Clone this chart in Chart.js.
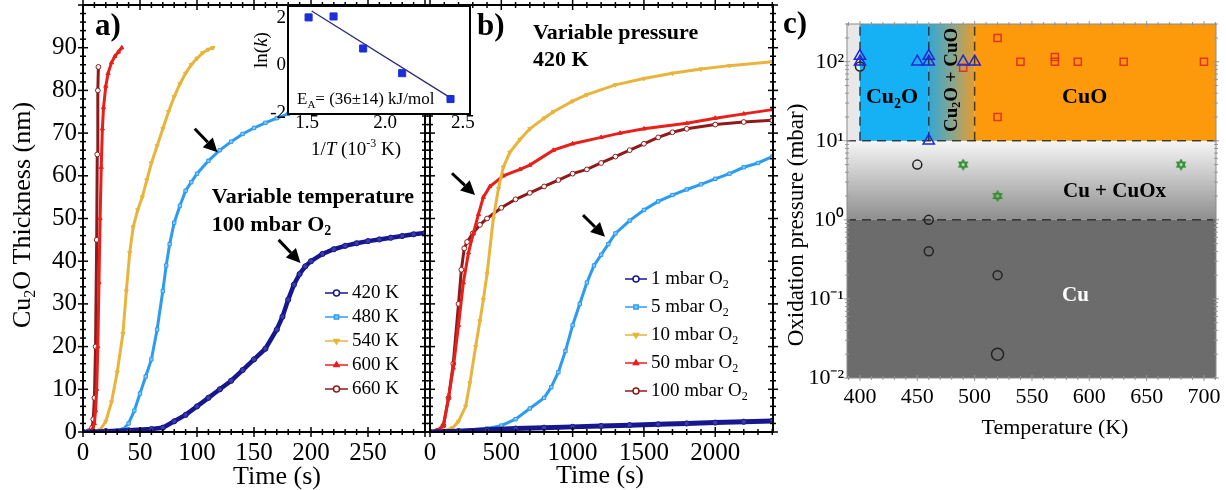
<!DOCTYPE html>
<html>
<head>
<meta charset="utf-8">
<title>Cu oxidation kinetics</title>
<script src="https://cdn.jsdelivr.net/npm/chart.js@4.4.1/dist/chart.umd.min.js"></script>
<style>
  html, body { margin: 0; padding: 0; background: #fff; }
  #wrap { position: relative; width: 1226px; height: 490px; overflow: hidden; }
  #wrap canvas { position: absolute; top: 0; }
</style>
</head>
<body>
<div id="wrap">
  <canvas id="panelA" width="430" height="490" style="left:0"></canvas>
  <canvas id="panelB" width="400" height="490" style="left:380px"></canvas>
  <canvas id="inset" width="240" height="160" style="left:250px"></canvas>
  <canvas id="panelC" width="446" height="490" style="left:780px"></canvas>
</div>
<script>
const FONT = "'Liberation Serif', 'Times New Roman', serif";
const NAVY = '#16168e', SKY = '#2b9cf2', GOLD = '#e8b43c', RED = '#e8201c', MAROON = '#8e1a1a';

// a) variable temperature, 100 mbar O2  (time in s, thickness in nm)
const timeA420 = [0, 20, 40, 60, 70, 80, 90, 100, 110, 120, 130, 140, 150, 160, 170, 175, 180, 185, 190, 195, 200, 210, 220, 230, 240, 250, 260, 270, 280, 290, 300];
const thickA420 = [0, 0.2, 0.4, 0.7, 1, 2.5, 4, 6, 8, 10, 12, 14.5, 17, 19.5, 24, 27, 31, 34.5, 37, 38.8, 40, 41.7, 42.8, 43.6, 44.2, 44.7, 45.1, 45.5, 45.9, 46.3, 46.6];
const timeA480 = [0, 20, 30, 35, 40, 45, 50, 55, 60, 65, 70, 73, 76, 80, 85, 90, 95, 100, 110, 120, 130, 140, 150, 160, 170, 180];
const thickA480 = [0, 0.1, 0.3, 0.6, 2, 5, 9, 13, 17, 24, 33, 39, 44, 49, 53, 56.5, 58.5, 60.5, 63.5, 66, 68, 69.8, 71.2, 72.4, 73.5, 74.5];
const timeA540 = [0, 10, 15, 20, 25, 30, 35, 38, 41, 44, 48, 52, 56, 60, 65, 70, 75, 80, 85, 90, 95, 100, 105, 110, 114];
const thickA540 = [0, 0, 0.5, 2.5, 7, 14, 23, 33, 42, 48, 52, 55, 59, 63, 67, 71, 75, 78.5, 81.5, 84, 86, 87.5, 88.8, 89.6, 90];
const timeA600 = [0, 5, 8, 10, 11, 12, 13, 14, 15, 16, 17, 18, 20, 22, 25, 28, 31, 34];
const thickA600 = [0, 0, 0.5, 2, 5, 10, 20, 35, 50, 62, 71, 76, 81, 84, 86.5, 88, 89, 90];
const timeA660 = [0, 5, 8, 9, 10, 11, 12, 12.5, 13, 13.5];
const thickA660 = [0, 0.2, 1, 3, 8, 20, 45, 65, 80, 85.5];

// b) variable pressure, 420 K
const timeB1 = [0, 200, 400, 600, 800, 1000, 1200, 1400, 1600, 1800, 2000, 2200, 2400];
const thickB1 = [0, 0.2, 0.5, 0.8, 1.0, 1.2, 1.4, 1.6, 1.8, 2.0, 2.2, 2.4, 2.6];
const timeB5 = [0, 200, 400, 500, 600, 700, 800, 850, 900, 950, 1000, 1050, 1100, 1150, 1200, 1250, 1300, 1400, 1500, 1600, 1700, 1800, 1900, 2000, 2100, 2200, 2300, 2400];
const thickB5 = [0, 0.3, 0.8, 1.5, 3, 5.5, 8, 10.5, 14, 19, 25, 30, 35, 39, 41.5, 44, 46.5, 49.5, 52, 54, 55.5, 56.8, 58, 59.3, 60.5, 62, 63, 64.5];
const timeB10 = [0, 100, 160, 200, 250, 280, 320, 350, 374, 400, 444, 480, 514, 560, 631, 700, 800, 865, 1000, 1100, 1300, 1500, 1700, 1900, 2100, 2400];
const thickB10 = [0, 0.3, 1, 2.5, 6, 11.5, 20, 26, 31, 37, 50, 57, 62, 65.5, 68.5, 71, 73.5, 75, 77.5, 79, 81.3, 82.8, 84, 85, 85.8, 86.7];
const timeB50 = [0, 50, 94, 130, 163, 200, 234, 270, 304, 340, 374, 420, 514, 631, 700, 865, 1000, 1200, 1333, 1500, 1800, 2000, 2200, 2400];
const thickB50 = [0, 0.3, 1.5, 8, 15, 25, 35, 42, 46.5, 51, 55, 57.5, 60, 61.5, 62.5, 66, 67.5, 69, 70, 71, 72.3, 73.5, 74.5, 75.5];
const timeB100 = [0, 50, 94, 130, 163, 200, 220, 240, 260, 300, 350, 400, 500, 600, 700, 800, 900, 1000, 1100, 1200, 1300, 1400, 1500, 1600, 1700, 1800, 2000, 2200, 2400];
const thickB100 = [0, 0.3, 1.5, 8, 16, 30, 38, 43, 44.5, 46.5, 48.5, 50, 52.5, 54.5, 56, 57.5, 59, 60.5, 61.5, 63, 64.5, 66, 67.5, 69, 70.2, 71, 72, 72.6, 73];

// inset: Arrhenius plot
const invT = [1.51, 1.67, 1.86, 2.11, 2.42];
const lnK = [2.02, 2.06, 0.71, -0.33, -1.42];
const fitInvT = [1.53, 2.41];
const fitLnK = [2.29, -1.33];

// c) phase map (temperature in K, pressure in mbar)
const triT = [400, 400, 450, 460, 460, 460, 490, 500];
const triP = [100, 118, 100, 100, 118, 10, 100, 100];
const circT = [400, 450, 460, 460, 520, 520];
const circP = [87, 5, 1, 0.4, 0.2, 0.02];
const sqT = [490, 520, 520, 540, 570, 570, 590, 630, 700];
const sqP = [84, 200, 20, 100, 100, 115, 100, 100, 100];
const starT = [490, 520, 680];
const starP = [5, 2, 5];
const phaseT = [400, 460, 500];   // Cu2O | Cu2O+CuO | CuO
const phaseP = [1, 10];           // Cu | Cu+CuOx | oxides

// ticks
const tickAx = [0, 50, 100, 150, 200, 250];
const tickAy = [0, 10, 20, 30, 40, 50, 60, 70, 80, 90];
const tickBx = [0, 500, 1000, 1500, 2000];
const tickInsetX = [1.5, 2.0, 2.5];
const tickInsetY = [-2, 0, 2];
const tickCx = [400, 450, 500, 550, 600, 650, 700];
const tickCy = [0.01, 0.1, 1, 10, 100];
const tickCyLabels = ['10⁻²', '10⁻¹', '10⁰', '10¹', '10²'];

const pts = (xs, ys) => xs.map((v, i) => ({ x: v, y: ys[i] }));

// "_x" subscript, "^{..}" superscript, "~..~" italic
function parseRich(str) {
  const out = [], re = /_(\w)|\^\{([^}]*)\}|~([^~]*)~/g;
  let last = 0, m;
  while ((m = re.exec(str))) {
    if (m.index > last) out.push({ t: str.slice(last, m.index) });
    if (m[1] !== undefined) out.push({ t: m[1], sub: true });
    else if (m[2] !== undefined) out.push({ t: m[2], sup: true });
    else out.push({ t: m[3], it: true });
    last = re.lastIndex;
  }
  if (last < str.length) out.push({ t: str.slice(last) });
  return out;
}

function drawRich(ctx, str, x, y, o) {
  const parts = parseRich(str);
  const size = o.size || 20;
  const fontFor = p => (p.it ? 'italic ' : '') + (o.bold ? 'bold ' : '') +
    Math.round(p.sub || p.sup ? size * 0.62 : size) + 'px ' + FONT;
  let w = 0;
  parts.forEach(p => { ctx.font = fontFor(p); p.w = ctx.measureText(p.t).width; w += p.w; });
  ctx.save();
  ctx.translate(x, y);
  if (o.rotate) ctx.rotate(-Math.PI / 2);
  let cx = o.align === 'center' ? -w / 2 : o.align === 'right' ? -w : 0;
  ctx.fillStyle = o.color || '#000';
  ctx.textAlign = 'left';
  ctx.textBaseline = 'middle';
  parts.forEach(p => {
    ctx.font = fontFor(p);
    const dy = p.sub ? size * 0.3 : p.sup ? -size * 0.33 : 0;
    ctx.fillText(p.t, cx, dy);
    cx += p.w;
  });
  ctx.restore();
}

function drawArrow(ctx, x1, y1, x2, y2) {
  const ang = Math.atan2(y2 - y1, x2 - x1), head = 14, half = 7;
  const bx = x2 - head * Math.cos(ang), by = y2 - head * Math.sin(ang);
  ctx.save();
  ctx.strokeStyle = ctx.fillStyle = '#000';
  ctx.lineWidth = 3;
  ctx.beginPath(); ctx.moveTo(x1, y1); ctx.lineTo(bx, by); ctx.stroke();
  ctx.beginPath();
  ctx.moveTo(x2, y2);
  ctx.lineTo(bx + half * Math.sin(ang), by - half * Math.cos(ang));
  ctx.lineTo(bx - half * Math.sin(ang), by + half * Math.cos(ang));
  ctx.closePath(); ctx.fill();
  ctx.restore();
}

function tickList(scale, t) {
  const out = [];
  if (!t) return out;
  if (t.log) {
    for (let d = Math.floor(Math.log10(scale.min)); d <= Math.ceil(Math.log10(scale.max)); d++) {
      for (let k = 1; k < 10; k++) {
        const v = k * Math.pow(10, d);
        if (v >= scale.min && v <= scale.max) out.push([v, k === 1]);
      }
    }
  } else {
    const n0 = Math.ceil(scale.min / t.minor - 1e-9), n1 = Math.floor(scale.max / t.minor + 1e-9);
    for (let n = n0; n <= n1; n++) {
      const v = n * t.minor;
      out.push([v, Math.abs(v / t.major - Math.round(v / t.major)) < 1e-6]);
    }
  }
  return out;
}

// box around plot area with small ticks crossing all four sides
const framePlugin = {
  id: 'frame',
  afterDatasetsDraw(chart, args, o) {
    const { ctx, chartArea: a, scales } = chart;
    ctx.save();
    const seg = (x1, y1, x2, y2) => { ctx.beginPath(); ctx.moveTo(x1, y1); ctx.lineTo(x2, y2); ctx.stroke(); };
    ctx.strokeStyle = o.tickColor || o.color;
    ctx.lineWidth = o.tickWidth || 1;
    tickList(scales.x, o.x).forEach(([v, major]) => {
      const p = scales.x.getPixelForValue(v), l = major ? o.major : o.minor;
      seg(p, a.bottom - l, p, a.bottom + l);
      seg(p, a.top - l, p, a.top + l);
    });
    tickList(scales.y, o.y).forEach(([v, major]) => {
      const p = scales.y.getPixelForValue(v), l = major ? o.major : o.minor;
      seg(a.left - l, p, a.left + l, p);
      seg(a.right - l, p, a.right + l, p);
    });
    ctx.strokeStyle = o.color;
    ctx.lineWidth = o.width;
    ctx.strokeRect(a.left, a.top, a.right - a.left, a.bottom - a.top);
    ctx.restore();
  }
};

const notesPlugin = {
  id: 'notes',
  afterDatasetsDraw(chart, args, o) {
    const { ctx, scales: { x, y } } = chart;
    (o.arrows || []).forEach(a => drawArrow(ctx,
      x.getPixelForValue(a[0][0]), y.getPixelForValue(a[0][1]),
      x.getPixelForValue(a[1][0]), y.getPixelForValue(a[1][1])));
    (o.texts || []).forEach(t => {
      const px = t.px ? t.x : x.getPixelForValue(t.x);
      const py = t.px ? t.y : y.getPixelForValue(t.y);
      drawRich(ctx, t.text, px, py, t);
    });
  }
};

const keyPlugin = {
  id: 'key',
  afterDatasetsDraw(chart, args, o) {
    const { ctx, chartArea: a } = chart;
    chart.data.datasets.forEach((ds, i) => {
      const x0 = a.left + o.left, yc = a.top + o.top + i * o.row;
      ctx.save();
      ctx.strokeStyle = ds.borderColor;
      ctx.lineWidth = 1.5;
      ctx.beginPath(); ctx.moveTo(x0, yc); ctx.lineTo(x0 + o.len, yc); ctx.stroke();
      ctx.fillStyle = ds.keyFill || ds.pointBackgroundColor || ds.borderColor;
      Chart.helpers.drawPoint(ctx, { pointStyle: ds.pointStyle, rotation: ds.pointRotation || 0, radius: 3, borderWidth: 1 }, x0 + o.len / 2, yc);
      ctx.restore();
      drawRich(ctx, ds.label, x0 + o.len + 4, yc, { size: o.size });
    });
  }
};

const insetBgPlugin = {
  id: 'insetBg',
  beforeDatasetsDraw(chart) {
    const { ctx, chartArea: a } = chart;
    ctx.save();
    ctx.fillStyle = '#fff';
    ctx.fillRect(a.left, a.top, a.right - a.left, a.bottom - a.top);
    ctx.restore();
  }
};

// shaded phase regions of panel c
const phasePlugin = {
  id: 'phases',
  beforeDatasetsDraw(chart) {
    const { ctx, chartArea: a, scales: { x, y } } = chart;
    const X = v => x.getPixelForValue(v), Y = v => y.getPixelForValue(v);
    const w = a.right - a.left;
    const yCu = Y(phaseP[0]), yOx = Y(phaseP[1]);
    ctx.save();
    ctx.beginPath(); ctx.rect(a.left, a.top, w, a.bottom - a.top); ctx.clip();
    ctx.fillStyle = '#6c6c6c';
    ctx.fillRect(a.left, yCu, w, a.bottom - yCu);
    const g = ctx.createLinearGradient(0, yOx, 0, yCu);
    g.addColorStop(0, '#f6f6f6'); g.addColorStop(1, '#8e8e8e');
    ctx.fillStyle = g;
    ctx.fillRect(a.left, yOx, w, yCu - yOx);
    ctx.fillStyle = '#e8e8e8';
    ctx.fillRect(a.left, a.top, w, yOx - a.top);
    ctx.fillStyle = '#16b1f4';
    ctx.fillRect(X(phaseT[0]), a.top, X(phaseT[1]) - X(phaseT[0]), yOx - a.top);
    const m = ctx.createLinearGradient(X(phaseT[1]), 0, X(phaseT[2]), 0);
    m.addColorStop(0, '#32a8d4'); m.addColorStop(0.5, '#86a690'); m.addColorStop(1, '#e69c2c');
    ctx.fillStyle = m;
    ctx.fillRect(X(phaseT[1]), a.top, X(phaseT[2]) - X(phaseT[1]), yOx - a.top);
    ctx.fillStyle = '#fd9a0c';
    ctx.fillRect(X(phaseT[2]), a.top, a.right - X(phaseT[2]), yOx - a.top);
    ctx.strokeStyle = 'rgba(30,30,30,0.8)';
    ctx.lineWidth = 1.5;
    ctx.setLineDash([9, 6]);
    phaseP.forEach(p => { ctx.beginPath(); ctx.moveTo(a.left, Y(p)); ctx.lineTo(a.right, Y(p)); ctx.stroke(); });
    phaseT.forEach(t => { ctx.beginPath(); ctx.moveTo(X(t), yOx); ctx.lineTo(X(t), a.top); ctx.stroke(); });
    ctx.restore();
  }
};

function axis(min, max, ticks, o) {
  return {
    type: o.type || 'linear', min, max,
    afterBuildTicks: s => { s.ticks = ticks.map(v => ({ value: v })); },
    afterFit: s => {
      if (o.width != null) s.width = o.width;
      if (o.height != null) s.height = o.height;
      // keep the plot box exactly where the layout padding puts it
      s.paddingTop = s.paddingBottom = s.paddingLeft = s.paddingRight = 0;
    },
    ticks: {
      display: o.labels !== false, autoSkip: false, maxRotation: 0,
      font: { family: FONT, size: o.size }, color: '#000', padding: o.pad,
      callback: o.format || (v => String(v))
    },
    grid: { display: false, drawTicks: false },
    border: { display: false }
  };
}

function curve(label, xs, ys, color, style, extra) {
  return Object.assign({
    label, data: pts(xs, ys), showLine: true,
    borderColor: color, backgroundColor: color, borderWidth: 3, tension: 0,
    pointStyle: style, pointRadius: 2.4, pointBorderWidth: 1,
    pointBorderColor: color, pointBackgroundColor: '#fff'
  }, extra);
}

const base = {
  responsive: false, animation: false, events: [],
  plugins: { legend: { display: false }, tooltip: { enabled: false } }
};

// ---- panel a
new Chart(document.getElementById('panelA'), {
  type: 'scatter',
  data: {
    datasets: [
      curve('420 K', timeA420, thickA420, NAVY, 'circle', { borderWidth: 4.5, pointRadius: 2.6, pointBackgroundColor: '#3a3aa8', keyFill: '#fff' }),
      curve('480 K', timeA480, thickA480, SKY, 'rect', { pointBackgroundColor: '#8cc8f8' }),
      curve('540 K', timeA540, thickA540, GOLD, 'triangle', { pointRotation: 180, pointBackgroundColor: GOLD }),
      curve('600 K', timeA600, thickA600, RED, 'triangle', { pointBackgroundColor: RED }),
      curve('660 K', timeA660, thickA660, MAROON, 'circle')
    ]
  },
  options: Object.assign({}, base, {
    layout: { padding: { top: 4, right: 3, left: 0, bottom: 0 } },
    scales: {
      x: axis(0, 300, tickAx, { size: 25, pad: 6, height: 58 }),
      y: axis(0, 100, tickAy, { size: 25, pad: 6, width: 83 })
    },
    plugins: Object.assign({}, base.plugins, {
      frame: { color: '#000', width: 2, tickWidth: 1.5, major: 5, minor: 3, x: { minor: 10, major: 50 }, y: { minor: 2, major: 10 } },
      notes: {
        arrows: [[[98, 71], [118, 65.5]], [[171.6, 45], [190.8, 39.6]]],
        texts: [
          { px: true, text: 'Cu_2O Thickness (nm)', x: 23, y: 215, size: 26, rotate: true, align: 'center' },
          { px: true, text: 'Time (s)', x: 277, y: 477, size: 26, align: 'center' },
          { text: 'a)', x: 10.5, y: 94.8, size: 31, bold: true },
          { text: 'Variable temperature', x: 113, y: 55, size: 22, bold: true },
          { text: '100 mbar O_2', x: 113, y: 48.5, size: 22, bold: true }
        ]
      },
      key: { left: 242, top: 288, row: 24, len: 23, size: 19 }
    })
  }),
  plugins: [framePlugin, notesPlugin, keyPlugin]
});

// ---- panel b
new Chart(document.getElementById('panelB'), {
  type: 'scatter',
  data: {
    datasets: [
      curve('1 mbar O_2', timeB1, thickB1, NAVY, 'circle', { borderWidth: 5, pointRadius: 2.6, pointBackgroundColor: '#3a3aa8', keyFill: '#fff' }),
      curve('5 mbar O_2', timeB5, thickB5, SKY, 'rect', { pointBackgroundColor: '#8cc8f8' }),
      curve('10 mbar O_2', timeB10, thickB10, GOLD, 'triangle', { pointRotation: 180, pointBackgroundColor: GOLD }),
      curve('50 mbar O_2', timeB50, thickB50, RED, 'triangle', { pointBackgroundColor: RED }),
      curve('100 mbar O_2', timeB100, thickB100, MAROON, 'circle')
    ]
  },
  options: Object.assign({}, base, {
    layout: { padding: { top: 4, right: 7, left: 0, bottom: 0 } },
    scales: {
      x: axis(0, 2405, tickBx, { size: 25, pad: 6, height: 58 }),
      y: axis(0, 100, tickAy, { size: 25, pad: 6, width: 50, labels: false })
    },
    plugins: Object.assign({}, base.plugins, {
      frame: { color: '#000', width: 2, tickWidth: 1.5, major: 5, minor: 3, x: { minor: 100, major: 500 }, y: { minor: 2, major: 10 } },
      notes: {
        arrows: [[[154, 60.6], [316, 55.5]], [[1073, 50.8], [1227, 45.7]]],
        texts: [
          { px: true, text: 'Time (s)', x: 220, y: 476, size: 26, align: 'center' },
          { text: 'b)', x: 330, y: 94.8, size: 31, bold: true },
          { text: 'Variable pressure', x: 722, y: 93.4, size: 22, bold: true },
          { text: '420 K', x: 722, y: 87.1, size: 22, bold: true }
        ]
      },
      key: { left: 195, top: 274, row: 28, len: 22, size: 19 }
    })
  }),
  plugins: [framePlugin, notesPlugin, keyPlugin]
});

// ---- inset (Arrhenius)
new Chart(document.getElementById('inset'), {
  type: 'scatter',
  data: {
    datasets: [
      { label: 'k', data: pts(invT, lnK), pointStyle: 'rect', pointRadius: 5, backgroundColor: '#1c2fd6', borderColor: '#1c2fd6', showLine: false },
      { label: 'fit', data: pts(fitInvT, fitLnK), showLine: true, borderColor: '#2b2b78', borderWidth: 1.3, pointRadius: 0 }
    ]
  },
  options: Object.assign({}, base, {
    layout: { padding: { top: 5, right: 20, left: 0, bottom: 0 } },
    scales: {
      x: axis(1.378, 2.545, tickInsetX, { size: 19, pad: -2, height: 46, format: v => v.toFixed(1) }),
      y: axis(-2.05, 2.5, tickInsetY, { size: 19, pad: 2, width: 38 })
    },
    plugins: Object.assign({}, base.plugins, {
      frame: { color: '#000', width: 2 },
      notes: {
        texts: [
          { px: true, text: 'ln(~k~)', x: 12, y: 50, size: 19, rotate: true, align: 'center' },
          { px: true, text: '1/~T~ (10^{-3} K)', x: 106, y: 150, size: 19, align: 'center' },
          { px: true, text: 'E_A= (36±14) kJ/mol', x: 47, y: 100, size: 17 }
        ]
      }
    })
  }),
  plugins: [insetBgPlugin, framePlugin, notesPlugin]
});

// ---- panel c
function hexagram(color) {
  const c = document.createElement('canvas');
  c.width = c.height = 12;
  const g = c.getContext('2d');
  g.strokeStyle = color; g.lineWidth = 1.5;
  [0, Math.PI].forEach(r => {
    g.beginPath();
    for (let k = 0; k < 3; k++) {
      const ang = r - Math.PI / 2 + k * 2 * Math.PI / 3;
      const px = 6 + 4.6 * Math.cos(ang), py = 6 + 4.6 * Math.sin(ang);
      if (k) g.lineTo(px, py); else g.moveTo(px, py);
    }
    g.closePath(); g.stroke();
  });
  return c;
}

const marker = (label, xs, ys, color, style, radius) => ({
  label, data: pts(xs, ys), showLine: false, pointStyle: style, pointRadius: radius,
  borderColor: color, backgroundColor: 'rgba(0,0,0,0)', pointBorderWidth: 1.5
});

new Chart(document.getElementById('panelC'), {
  type: 'scatter',
  data: {
    datasets: [
      marker('Cu2O', triT, triP, '#2424d6', 'triangle', 6.5),
      marker('CuO', sqT, sqP, '#e4321e', 'rect', 5),
      marker('Cu', circT, circP, '#222', 'circle', [4.5, 4.5, 4.5, 4.5, 4.5, 6]),
      marker('CuOx', starT, starP, '#2f8f2f', hexagram('#2f8f2f'), 6)
    ]
  },
  options: Object.assign({}, base, {
    layout: { padding: { top: 24, right: 10, left: 0, bottom: 49 } },
    scales: {
      x: axis(388.7, 710.5, tickCx, { size: 22, pad: 6, height: 63 }),
      y: axis(0.01, 300, tickCy, { type: 'logarithmic', size: 22, pad: 3, width: 67, format: (v, i) => tickCyLabels[i] })
    },
    plugins: Object.assign({}, base.plugins, {
      frame: { color: '#8a8a8a', width: 1, tickColor: '#999', tickWidth: 1, major: 3, minor: 2, x: { minor: 10, major: 50 }, y: { log: true } },
      notes: {
        texts: [
          { px: true, text: 'c)', x: 3, y: 25, size: 31, bold: true },
          { px: true, text: 'Oxidation pressure (mbar)', x: 17, y: 225, size: 23, rotate: true, align: 'center' },
          { px: true, text: 'Temperature (K)', x: 275, y: 428, size: 22, align: 'center' },
          { text: 'Cu_2O', x: 428, y: 35, size: 22, bold: true, align: 'center' },
          { text: 'CuO', x: 596, y: 35, size: 22, bold: true, align: 'center' },
          { text: 'Cu_2O + CuO', x: 480, y: 59, size: 19, bold: true, rotate: true, align: 'center' },
          { text: 'Cu + CuOx', x: 622, y: 2.3, size: 21, bold: true, align: 'center' },
          { text: 'Cu', x: 588, y: 0.11, size: 21, bold: true, align: 'center', color: '#fff' }
        ]
      }
    })
  }),
  plugins: [phasePlugin, framePlugin, notesPlugin]
});
</script>
</body>
</html>
